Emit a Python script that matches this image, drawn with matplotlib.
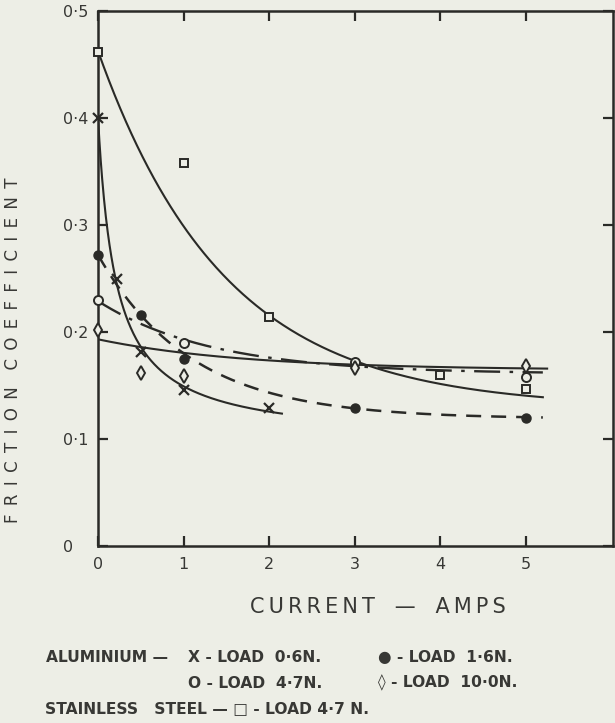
import numpy as np
import matplotlib
matplotlib.use("Agg")
import matplotlib.pyplot as plt

# ---------------------------------------------------------------- data
current_ticks = [0, 1, 2, 3, 4, 5]
current_tick_labels = ["0", "1", "2", "3", "4", "5"]
friction_ticks = [0.0, 0.1, 0.2, 0.3, 0.4, 0.5]
friction_tick_labels = ["0", "0·1", "0·2", "0·3", "0·4", "0·5"]

# Aluminium, load 0.6 N  (X)
al06_current = [0, 0.22, 0.5, 1, 2]
al06_friction = [0.40, 0.25, 0.181, 0.146, 0.129]
# Aluminium, load 1.6 N  (filled circles)
al16_current = [0, 0.5, 1, 3, 5]
al16_friction = [0.272, 0.216, 0.175, 0.129, 0.120]
# Aluminium, load 4.7 N  (open circles)
al47_current = [0, 1, 3, 5]
al47_friction = [0.23, 0.19, 0.172, 0.158]
# Aluminium, load 10.0 N  (diamonds)
al100_current = [0, 0.5, 1, 3, 5]
al100_friction = [0.202, 0.162, 0.159, 0.166, 0.168]
# Stainless steel, load 4.7 N  (squares)
ss47_current = [0, 1, 2, 4, 5]
ss47_friction = [0.462, 0.358, 0.214, 0.160, 0.147]

# Points along the hand-drawn trend curves
al06_curve_current = [0, 0.22, 0.5, 1, 2, 2.15]
al06_curve_friction = [0.40, 0.25, 0.18, 0.146, 0.129, 0.125]
al16_curve_current = [0, 0.5, 1, 2, 3, 5.2]
al16_curve_friction = [0.272, 0.216, 0.18, 0.143, 0.129, 0.12]
al47_curve_current = [0, 0.5, 1, 2, 3, 4, 5.2]
al47_curve_friction = [0.23, 0.207, 0.19, 0.178, 0.171, 0.165, 0.159]
al100_curve_current = [0, 1, 2.4, 5.25]
al100_curve_friction = [0.193, 0.181, 0.171, 0.166]
ss47_curve_current = [0, 0.82, 1.2, 2, 3, 4, 5.2]
ss47_curve_friction = [0.462, 0.323, 0.277, 0.214, 0.172, 0.153, 0.139]

# ---------------------------------------------------------------- style
BG = "#edeee6"
INK = "#2a2a27"
TEXT = "#383835"


def spaced(text, gap="\u2009", word_gap="   "):
    """Open up the lettering, the way stencil lettering sits."""
    return word_gap.join(gap.join(word) for word in text.split())


def fit_decay(x, y, kind):
    """Least-squares fit of y = a + b*f(x; c) and return a smooth trace."""
    x = np.asarray(x, float)
    y = np.asarray(y, float)
    best = None
    for c in np.geomspace(0.01, 30, 4000):
        f = np.exp(-c * x) if kind == "exp" else 1.0 / (x + c)
        A = np.column_stack([np.ones_like(x), f])
        coef, *_ = np.linalg.lstsq(A, y, rcond=None)
        r = float(np.sum((A @ coef - y) ** 2))
        if best is None or r < best[0]:
            best = (r, c, coef)
    _, c, (a, b) = best
    xs = np.linspace(x.min(), x.max(), 400)
    f = np.exp(-c * xs) if kind == "exp" else 1.0 / (xs + c)
    return xs, a + b * f


fig = plt.figure(figsize=(6.15, 7.23), dpi=100, facecolor=BG)
ax = fig.add_axes([98 / 615, 177 / 723, 515 / 615, 535 / 723], facecolor=BG)

lw = 1.5

# trend curves
xs, ys = fit_decay(ss47_curve_current, ss47_curve_friction, "exp")
ax.plot(xs, ys, color=INK, lw=lw)
xs, ys = fit_decay(al06_curve_current, al06_curve_friction, "hyp")
ax.plot(xs, ys, color=INK, lw=lw)
xs, ys = fit_decay(al16_curve_current, al16_curve_friction, "exp")
ax.plot(xs, ys, color=INK, lw=lw + 0.3, dashes=(6, 4))
xs, ys = fit_decay(al47_curve_current, al47_curve_friction, "exp")
ax.plot(xs, ys, color=INK, lw=lw + 0.2, dashes=(11, 4, 1.5, 4))
xs, ys = fit_decay(al100_curve_current, al100_curve_friction, "exp")
ax.plot(xs, ys, color=INK, lw=lw)

# measured points
ax.plot(al06_current, al06_friction, ls="none", marker="x", ms=7, mew=1.6,
        color=INK, clip_on=False, zorder=4)
ax.plot(al16_current, al16_friction, ls="none", marker="o", ms=6.5,
        color=INK, clip_on=False, zorder=4)
ax.plot(al47_current, al47_friction, ls="none", marker="o", ms=6.5, mew=1.4,
        mfc=BG, mec=INK, clip_on=False, zorder=4)
ax.plot(al100_current, al100_friction, ls="none", marker="d", ms=7.5, mew=1.4,
        mfc=BG, mec=INK, clip_on=False, zorder=4)
ax.plot(ss47_current, ss47_friction, ls="none", marker="s", ms=5.5, mew=1.4,
        mfc=BG, mec=INK, clip_on=False, zorder=4)

# axes
ax.set_xlim(0, 6.02)
ax.set_ylim(0, 0.5)
for sp in ax.spines.values():
    sp.set_color(INK)
    sp.set_linewidth(1.8)
ax.set_xticks(current_ticks)
ax.set_xticklabels(current_tick_labels)
ax.set_yticks(friction_ticks)
ax.set_yticklabels(friction_tick_labels)
ax.tick_params(direction="in", length=7, width=1.6, color=INK,
               top=True, right=True, labelsize=11.5, labelcolor=TEXT)
ax.tick_params(axis="x", pad=8)
ax.tick_params(axis="y", pad=25)
plt.setp(ax.get_yticklabels(), ha="left")

# axis titles
fig.text(13 / 615, 1 - 350 / 723,
         spaced("FRICTION COEFFICIENT", gap="\u2002", word_gap="\u2002\u2002"),
         rotation=90, ha="center", va="center", fontsize=12, color=TEXT)
fig.text(378 / 615, 1 - 607 / 723, spaced("CURRENT — AMPS"),
         ha="center", va="center", fontsize=15, color=TEXT)

# key
key_kw = dict(fontsize=11.2, color=TEXT, fontweight="bold", va="center",
              ha="left")
fig.text(46 / 615, 1 - 657 / 723, "ALUMINIUM —", **key_kw)
fig.text(188 / 615, 1 - 657 / 723, "X - LOAD  0·6N.", **key_kw)
fig.text(378 / 615, 1 - 657 / 723, "● - LOAD  1·6N.", **key_kw)
fig.text(188 / 615, 1 - 683 / 723, "O - LOAD  4·7N.", **key_kw)
fig.text(378 / 615, 1 - 683 / 723, "◊ - LOAD  10·0N.", **key_kw)
fig.text(45 / 615, 1 - 709 / 723, "STAINLESS   STEEL — □ - LOAD 4·7 N.",
         **key_kw)

fig.savefig("out.png", dpi=100, facecolor=BG)
